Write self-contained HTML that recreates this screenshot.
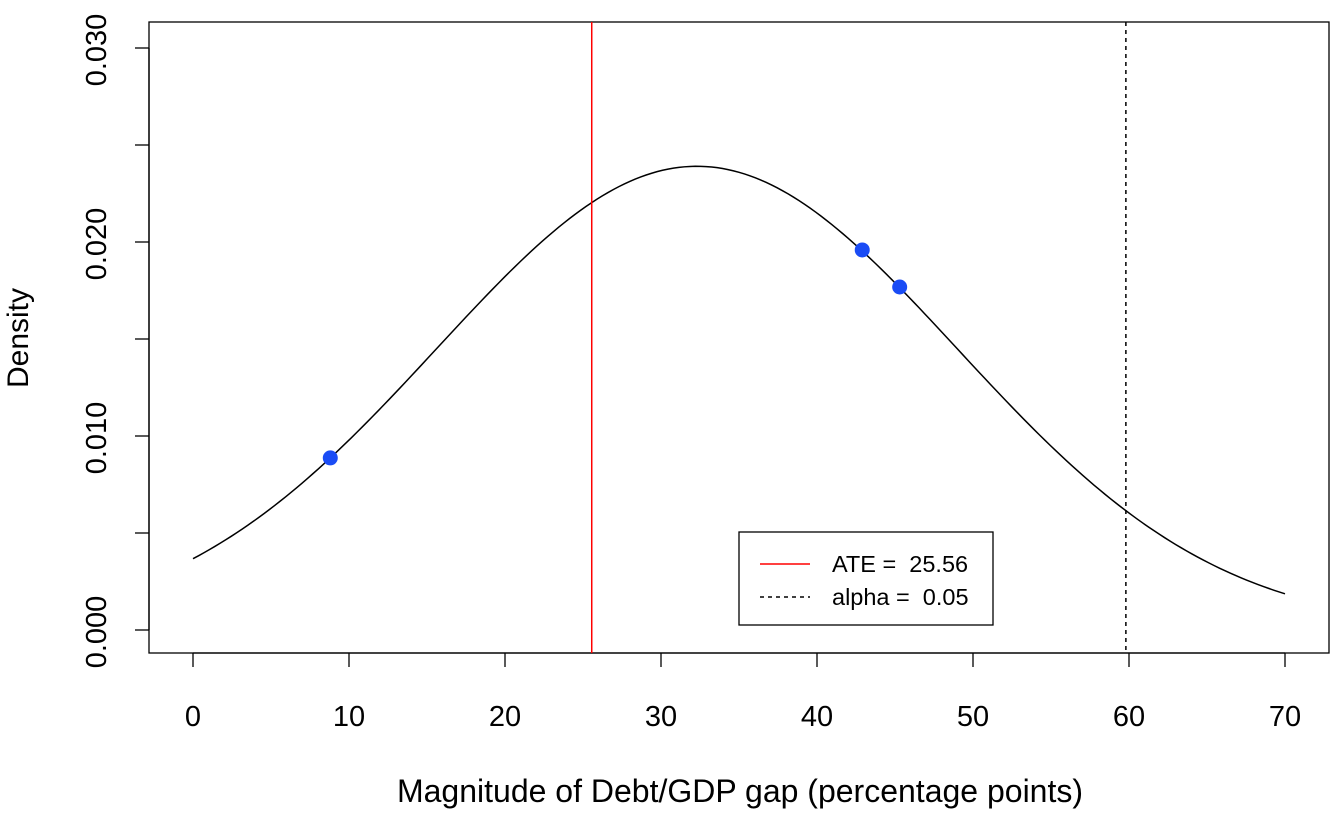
<!DOCTYPE html>
<html><head><meta charset="utf-8"><style>
html,body{margin:0;padding:0;background:#fff;}
svg{display:block;font-family:"Liberation Sans",Arial,sans-serif;}
</style></head><body>
<svg id="chart" width="1344" height="816" viewBox="0 0 1344 816">
<rect x="149" y="22" width="1180" height="631" fill="none" stroke="#000" stroke-width="1.3"/>
<g id="xaxis"></g>
<g id="yaxis"></g>
<text x="740" y="802" font-size="32" text-anchor="middle">Magnitude of Debt/GDP gap (percentage points)</text>
<text transform="translate(28,338) rotate(-90)" font-size="30" text-anchor="middle">Density</text>
<g id="marks"></g>
<g>
<rect x="739" y="532" width="254" height="93" fill="#fff" stroke="#000" stroke-width="1.3"/>
<line x1="760" y1="564" x2="810" y2="564" stroke="#ff0000" stroke-width="1.5"/>
<text x="832" y="572" font-size="23.5">ATE =&#160; 25.56</text>
<line x1="760" y1="597" x2="810" y2="597" stroke="#000" stroke-width="1.5" stroke-dasharray="4,4"/>
<text x="832" y="605" font-size="23.5">alpha =&#160; 0.05</text>
</g>
</svg>
<script>
const xTicks=[0,10,20,30,40,50,60,70];
const yTicks=[0,0.01,0.02,0.03];
const yTickLabels=["0.000","0.010","0.020","0.030"];
const curveMean=[32.3];
const curveSd=[16.69];
const curveRange=[0,70];
const pointX=[8.8,42.9,45.3];
const pointY=[0.00887,0.01959,0.01768];
const ateValue=[25.56];
const alphaCut=[59.8];
const NS="http://www.w3.org/2000/svg";
const xs=v=>193+v*15.6;
const ys=v=>630-v*19400;
function mk(tag,attrs,parent){const e=document.createElementNS(NS,tag);for(const k in attrs)e.setAttribute(k,attrs[k]);parent.appendChild(e);return e;}
const xa=document.getElementById('xaxis'),ya=document.getElementById('yaxis'),marks=document.getElementById('marks');
mk('line',{x1:xs(xTicks[0]),x2:xs(xTicks[xTicks.length-1]),y1:653,y2:653,stroke:'#000','stroke-width':1.3},xa);
xTicks.forEach(t=>{
 const l=mk('line',{x1:xs(t),x2:xs(t),y1:653,y2:667,stroke:'#000','stroke-width':1.3},xa);
 
 
 const tx=mk('text',{x:xs(t),y:726,'font-size':29,'text-anchor':'middle'},xa);tx.textContent=t;
 
 
});
mk('line',{x1:149,x2:149,y1:ys(yTicks[0]),y2:ys(yTicks[yTicks.length-1]),stroke:'#000','stroke-width':1.3},ya);
const allY=[];for(let i=0;i<yTicks.length-1;i++){allY.push(yTicks[i]);allY.push((yTicks[i]+yTicks[i+1])/2);}allY.push(yTicks[yTicks.length-1]);
allY.forEach(t=>{
 const l=mk('line',{x1:135,x2:149,y1:ys(t),y2:ys(t),stroke:'#000','stroke-width':1.3},ya);
 
 
});
yTicks.forEach((t,i)=>{
 const tx=mk('text',{transform:`translate(106,${ys(t)+2}) rotate(-90)`,'font-size':29,'text-anchor':'middle'},ya);tx.textContent=yTickLabels[i];
 
 
});
let d='';
for(let i=0;i<=200;i++){const x=curveRange[0]+(curveRange[1]-curveRange[0])*i/200;const z=(x-curveMean[0])/curveSd[0];const y=Math.exp(-z*z/2)/(curveSd[0]*Math.sqrt(2*Math.PI));d+=(i?'L':'M')+xs(x).toFixed(2)+','+ys(y).toFixed(2);}
const c=mk('path',{d:d,fill:'none',stroke:'#000','stroke-width':1.5},marks);


const a=mk('line',{x1:xs(ateValue[0]),x2:xs(ateValue[0]),y1:22,y2:653,stroke:'#ff0000','stroke-width':1.5},marks);


const al=mk('line',{x1:xs(alphaCut[0]),x2:xs(alphaCut[0]),y1:22,y2:653,stroke:'#000','stroke-width':1.5,'stroke-dasharray':'4,4'},marks);


pointX.forEach((x,i)=>{
 const p=mk('circle',{cx:xs(x),cy:ys(pointY[i]),r:7.5,fill:'#1a4cf5'},marks);
 
 
});
</script>
</body></html>
